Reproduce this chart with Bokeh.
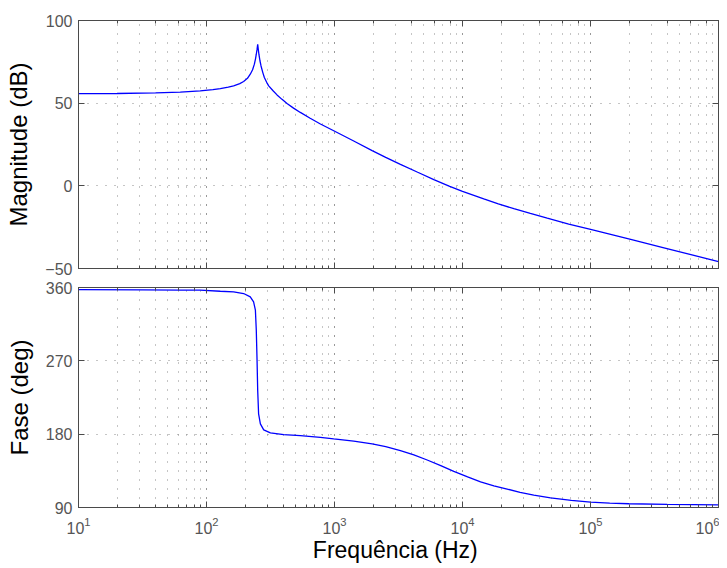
from bokeh.plotting import figure
from bokeh.layouts import column
from bokeh.models import Range1d, LogAxis, LinearAxis, FixedTicker, CustomJSTickFormatter
from bokeh.embed import file_html
from bokeh.resources import INLINE

# Magnitude curve (Hz, dB)
mag_freq = [10, 20, 40, 62.4, 89.3, 112.2, 128.2, 147.9, 162.9, 182, 195, 208.9, 219.8, 229.1, 236.6,
            241.5, 244.9, 248.3, 251.2, 254.1, 257, 261.8, 266.7, 275.4, 283.1, 295.1, 306.2, 331.1,
            355.6, 389, 425.6, 478.6, 540.8, 645.7, 776.2, 986.3, 1413, 1968, 2512, 3273, 4467, 5970,
            7943, 10000, 14660, 19050, 25180, 33880, 45920, 67610, 100200, 206100, 375000, 631000, 1000000]
mag_db = [55.8, 55.85, 56.2, 56.65, 57.45, 58.2, 58.86, 59.7, 60.47, 61.8, 63.08, 65.0, 67.5, 70.2, 73.6,
          76.8, 79.6, 82.5, 85.6, 82.3, 79.3, 75.5, 72.5, 68.5, 65.5, 62.6, 60.5, 57.5,
          55.0, 52.3, 49.8, 47.0, 44.4, 40.9, 37.4, 33.3, 27.1, 21.3, 17.2, 13.0, 8.2, 3.8,
          -0.3, -3.4, -7.9, -10.9, -13.8, -16.7, -19.6, -23.1, -26.4, -32.4, -37.5, -41.9, -45.9]

# Phase curve (Hz, deg)
ph_freq = [10, 31.6, 63.1, 89.3, 128.2, 162.9, 195, 219.8, 233.3, 241, 244.9, 248.3, 251.2, 255.3,
           263.6, 279.9, 315.5, 400.9, 540.8, 776.2, 986.3, 1413, 1968, 2512, 3273, 4169, 5297, 6761,
           8551, 10960, 13840, 17580, 22340, 28180, 36060, 48750, 70790, 100000, 141300, 199500,
           398100, 1000000]
ph_deg = [357.5, 357.2, 356.9, 356.7, 355.4, 354.6, 352.6, 348.4, 342.3, 332.1, 307.5, 270.5, 233.6, 205,
          192.6, 185.2, 181.6, 179.5, 178.2, 176.1, 174.2, 171.5, 168.0, 164.6, 159.8, 154.5, 148.3, 141.5,
          134.3, 127.5, 121.5, 116.5, 112.6, 108.6, 105.3, 101.8, 98.7, 96.5, 95.3, 94.6,
          93.8, 93.3]

mag_ticks = [-50, 0, 50, 100]
ph_ticks = [90, 180, 270, 360]
x_min, x_max = 10, 1e6

FONT = "Liberation Sans"
TICK_COL = "#555555"
EDGE_COL = "#4a4a4a"
GRID_COL = "#8a8a8a"


def blank():
    return CustomJSTickFormatter(code="return '';")


def style(p, yticks, ylabel, show_x):
    p.outline_line_color = EDGE_COL
    p.outline_line_width = 1
    p.background_fill_color = "white"
    p.border_fill_color = "white"
    # grids
    p.xgrid.grid_line_color = GRID_COL
    p.xgrid.grid_line_dash = "1 8"
    p.xgrid.minor_grid_line_color = GRID_COL
    p.xgrid.minor_grid_line_dash = "1 8"
    p.ygrid.grid_line_color = GRID_COL
    p.ygrid.grid_line_dash = "1 8"
    p.ygrid.ticker = FixedTicker(ticks=yticks)
    # left axis
    ya = p.yaxis[0]
    ya.ticker = FixedTicker(ticks=yticks)
    ya.axis_label = ylabel
    ya.axis_label_text_font = FONT
    ya.axis_label_text_font_size = "24px"
    ya.axis_label_text_font_style = "normal"
    ya.axis_label_text_color = "black"
    ya.axis_label_standoff = 10
    ya.major_label_text_font = FONT
    ya.major_label_text_font_size = "16px"
    ya.major_label_text_color = TICK_COL
    ya.major_label_standoff = 6
    ya.major_tick_in = 6
    ya.major_tick_out = 0
    ya.minor_tick_line_color = None
    ya.major_tick_line_color = EDGE_COL
    ya.axis_line_color = EDGE_COL
    # bottom axis
    xa = p.xaxis[0]
    xa.major_tick_in = 6
    xa.major_tick_out = 0
    xa.minor_tick_in = 3
    xa.minor_tick_out = 0
    xa.major_tick_line_color = EDGE_COL
    xa.minor_tick_line_color = EDGE_COL
    xa.axis_line_color = EDGE_COL
    if show_x:
        xa.major_label_text_font = FONT
        xa.major_label_text_font_size = "16px"
        xa.major_label_text_color = TICK_COL
        xa.major_label_standoff = 9
        xa.axis_label = "Frequência  (Hz)"
        xa.axis_label_text_font = FONT
        xa.axis_label_text_font_size = "23px"
        xa.axis_label_text_font_style = "normal"
        xa.axis_label_text_color = "black"
        xa.axis_label_standoff = 0
    else:
        xa.formatter = blank()
        xa.major_label_standoff = 0
    # mirrored axes (top and right) with inward ticks
    top = LogAxis(major_tick_in=6, major_tick_out=0, minor_tick_in=3, minor_tick_out=0,
                  formatter=blank(), major_label_standoff=0,
                  major_tick_line_color=EDGE_COL, minor_tick_line_color=EDGE_COL,
                  axis_line_color=EDGE_COL)
    p.add_layout(top, "above")
    right = LinearAxis(ticker=FixedTicker(ticks=yticks), major_tick_in=6, major_tick_out=0,
                       minor_tick_line_color=None, formatter=blank(),
                       major_label_standoff=0, major_tick_line_color=EDGE_COL,
                       axis_line_color=EDGE_COL)
    p.add_layout(right, "right")


p1 = figure(x_axis_type="log", x_range=Range1d(x_min, x_max), y_range=Range1d(mag_ticks[0], mag_ticks[-1]),
            frame_width=640, frame_height=248, min_border_left=78, min_border_right=1,
            min_border_top=20, min_border_bottom=9,
            output_backend="svg", toolbar_location=None)
p1.line(mag_freq, mag_db, line_color="#0000ff", line_width=1.3)
style(p1, mag_ticks, "Magnitude (dB)", False)

p2 = figure(x_axis_type="log", x_range=p1.x_range, y_range=Range1d(ph_ticks[0], ph_ticks[-1]),
            frame_width=640, frame_height=220, min_border_left=78, min_border_right=1,
            min_border_top=10, min_border_bottom=58,
            output_backend="svg", toolbar_location=None)
p2.line(ph_freq, ph_deg, line_color="#0000ff", line_width=1.3)
style(p2, ph_ticks, "Fase (deg)", True)

layout = column(p1, p2, spacing=0)
open("out.html", "w").write(file_html(layout, INLINE))
